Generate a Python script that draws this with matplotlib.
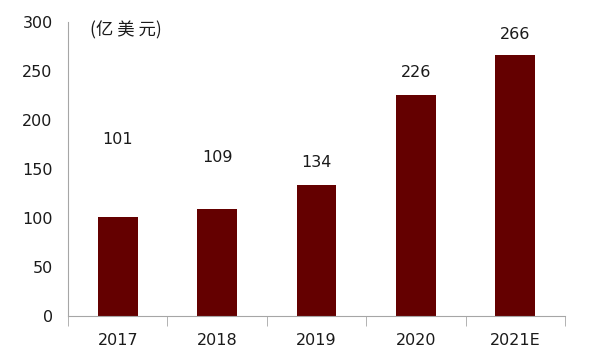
import matplotlib.pyplot as plt

plt.rcParams['font.family'] = ['DejaVu Sans', 'Noto Sans CJK SC']

years = ['2017', '2018', '2019', '2020', '2021E']
values = [101, 109, 134, 226, 266]
# where the value labels sit in the source (data units)
label_y = [180, 162, 157, 248, 287]

BAR_COLOR = '#640000'
AXIS_COLOR = '#a6a6a6'
TEXT_COLOR = '#1a1a1a'


def main():
    fig = plt.figure(figsize=(5.92, 3.56), dpi=100)
    ax = fig.add_axes([68 / 592, 40 / 356, 497 / 592, 294 / 356])

    x = range(len(years))
    ax.bar(x, values, width=0.4, color=BAR_COLOR, zorder=2)

    for xi, v, ly in zip(x, values, label_y):
        ax.text(xi, ly, str(v), ha='center', va='center', fontsize=11.5, color=TEXT_COLOR)

    ax.set_xlim(-0.5, len(years) - 0.5)
    ax.set_ylim(0, 300)
    ax.set_yticks(range(0, 301, 50))
    ax.set_xticks(x)
    ax.set_xticklabels(years)
    ax.set_xticks([i - 0.5 for i in range(len(years) + 1)], minor=True)

    for s in ['top', 'right']:
        ax.spines[s].set_visible(False)
    for s in ['left', 'bottom']:
        ax.spines[s].set_color(AXIS_COLOR)

    ax.tick_params(axis='y', length=0, pad=11, labelsize=11.5, labelcolor=TEXT_COLOR)
    ax.tick_params(axis='x', which='major', length=0, pad=12, labelsize=11.5, labelcolor=TEXT_COLOR)
    ax.tick_params(axis='x', which='minor', length=7, color=AXIS_COLOR)

    ax.text(0.045, 0.97, '(亿 美 元)', transform=ax.transAxes, ha='left', va='center',
            fontsize=12.5, color=TEXT_COLOR, family=['Noto Sans CJK SC', 'DejaVu Sans'])

    fig.savefig('out.png', dpi=100)
    plt.close(fig)


if __name__ == '__main__':
    main()
